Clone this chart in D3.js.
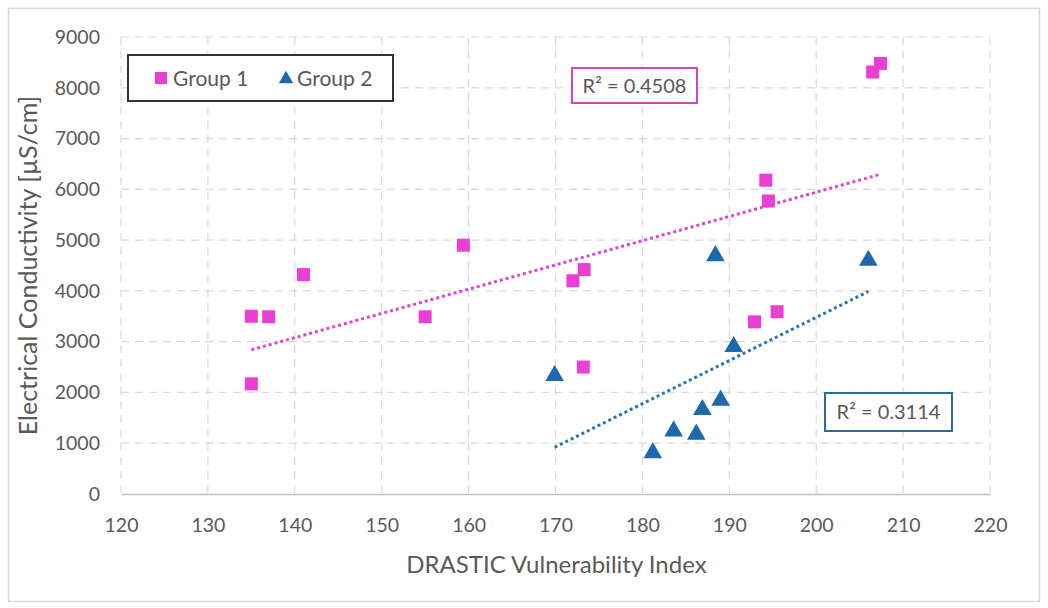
<!DOCTYPE html>
<html>
<head>
<meta charset="utf-8">
<script src="https://cdn.jsdelivr.net/npm/d3@7"></script>
<style>
  body { margin: 0; background: #fff; }
  svg text { font-family: Lato, "Open Sans", sans-serif; fill: #595959; }
</style>
</head>
<body>
<div id="chart"></div>
<script>
// group 1 (squares)
const group1X = [135, 137, 135, 141, 155, 159.4, 172, 173.3, 173.2, 192.9, 195.5, 194.2, 194.5, 206.5, 207.4];
const group1Y = [3500, 3490, 2170, 4320, 3490, 4900, 4200, 4420, 2500, 3390, 3590, 6180, 5770, 8310, 8480];
// group 2 (triangles)
const group2X = [169.9, 188.4, 206.0, 190.5, 181.2, 183.6, 186.2, 186.9, 189.0];
const group2Y = [2330, 4690, 4600, 2900, 810, 1240, 1175, 1660, 1845];

const xTicks = [120, 130, 140, 150, 160, 170, 180, 190, 200, 210, 220];
const yTicks = [0, 1000, 2000, 3000, 4000, 5000, 6000, 7000, 8000, 9000];
const seriesNames = ['Group 1', 'Group 2'];
const r2Labels = ['R\u00b2 = 0.4508', 'R\u00b2 = 0.3114'];

const width = 1048, height = 608;
const margin = { top: 37, right: 58, bottom: 114, left: 121 };
const w = width - margin.left - margin.right;
const h = height - margin.top - margin.bottom;

const pink = '#ea3fd4', blue = '#1d69ad';

const svg = d3.select('#chart').append('svg')
  .attr('width', width).attr('height', height);

// outer chart border
svg.append('rect')
  .attr('x', 8.5).attr('y', 8.5).attr('width', 1031).attr('height', 593)
  .attr('fill', '#fff').attr('stroke', '#d9d9d9').attr('stroke-width', 1.5);

const g = svg.append('g').attr('transform', `translate(${margin.left},${margin.top})`);

const x = d3.scaleLinear().domain([120, 220]).range([0, w]);
const y = d3.scaleLinear().domain([0, 9000]).range([h, 0]);

// grid
g.append('g').selectAll('line').data(yTicks.filter(d => d > 0)).enter().append('line')
  .attr('x1', 0).attr('x2', w).attr('y1', d => y(d)).attr('y2', d => y(d))
  .attr('stroke', '#d9d9d9').attr('stroke-width', 1.2).attr('stroke-dasharray', '8,6');
g.append('g').selectAll('line').data(xTicks).enter().append('line')
  .attr('x1', d => x(d)).attr('x2', d => x(d)).attr('y1', 0).attr('y2', h)
  .attr('stroke', '#d9d9d9').attr('stroke-width', 1.2).attr('stroke-dasharray', '8,6');

// axes
const xAxis = g.append('g').attr('transform', `translate(0,${h})`)
  .call(d3.axisBottom(x).tickValues(xTicks).tickSize(0).tickPadding(24));
xAxis.select('.domain').attr('stroke', '#bfbfbf').attr('stroke-width', 1.5);
xAxis.selectAll('text').style('font-size', '19.5px');

const yAxis = g.append('g')
  .call(d3.axisLeft(y).tickValues(yTicks).tickSize(0).tickPadding(21).tickFormat(d3.format('d')));
yAxis.select('.domain').remove();
yAxis.selectAll('text').style('font-size', '19.5px');

// axis titles
svg.append('text')
  .attr('x', margin.left + w / 2 + 1).attr('y', 573)
  .attr('text-anchor', 'middle').style('font-size', '24px')
  .text('DRASTIC Vulnerability Index');
svg.append('text')
  .attr('transform', `translate(37,${margin.top + h / 2}) rotate(-90)`)
  .attr('text-anchor', 'middle').style('font-size', '25px')
  .text('Electrical Conductivity [\u00b5S/cm]');

// linear regression trend lines
function fit(xs, ys) {
  const mx = d3.mean(xs), my = d3.mean(ys);
  let sxy = 0, sxx = 0;
  xs.forEach((v, i) => { sxy += (v - mx) * (ys[i] - my); sxx += (v - mx) * (v - mx); });
  const b = sxy / sxx, a = my - b * mx;
  const x0 = d3.min(xs), x1 = d3.max(xs);
  return [[x0, a + b * x0], [x1, a + b * x1]];
}
const line = d3.line().x(d => x(d[0])).y(d => y(d[1]));
g.append('path').datum(fit(group1X, group1Y)).attr('d', line)
  .attr('fill', 'none').attr('stroke', '#dd44d6').attr('stroke-width', 3).attr('stroke-dasharray', '3,3');
g.append('path').datum(fit(group2X, group2Y)).attr('d', line)
  .attr('fill', 'none').attr('stroke', '#2d73b3').attr('stroke-width', 3).attr('stroke-dasharray', '3,3');

// markers
const sq = 13;
g.append('g').selectAll('rect').data(group1X.map((v, i) => [v, group1Y[i]])).enter().append('rect')
  .attr('x', d => x(d[0]) - sq / 2).attr('y', d => y(d[1]) - sq / 2)
  .attr('width', sq).attr('height', sq).attr('fill', pink);

const tri = d3.symbol().type(d3.symbolTriangle).size(150);
g.append('g').selectAll('path').data(group2X.map((v, i) => [v, group2Y[i]])).enter().append('path')
  .attr('transform', d => `translate(${x(d[0])},${y(d[1])})`)
  .attr('d', tri).attr('fill', blue);

// legend
const leg = svg.append('g');
leg.append('rect').attr('x', 128).attr('y', 55).attr('width', 265).attr('height', 46)
  .attr('fill', '#fff').attr('stroke', '#333').attr('stroke-width', 2);
leg.append('rect').attr('x', 155).attr('y', 72).attr('width', 12).attr('height', 12).attr('fill', pink);
leg.append('text').attr('x', 173).attr('y', 86).style('font-size', '21px').text(seriesNames[0]);
leg.append('path').attr('transform', 'translate(286,79)')
  .attr('d', d3.symbol().type(d3.symbolTriangle).size(90)).attr('fill', blue);
leg.append('text').attr('x', 297).attr('y', 86).style('font-size', '21px').text(seriesNames[1]);

// R² labels
const r2Boxes = [
  { x: 572, y: 68, w: 125, h: 35, stroke: '#cc44cc' },
  { x: 825, y: 393, w: 127, h: 38, stroke: '#2f6b99' }
];
r2Boxes.forEach((b, i) => {
  svg.append('rect').attr('x', b.x).attr('y', b.y).attr('width', b.w).attr('height', b.h)
    .attr('fill', '#fff').attr('stroke', b.stroke).attr('stroke-width', 2);
  svg.append('text').attr('x', b.x + b.w / 2).attr('y', b.y + b.h / 2 + 7)
    .attr('text-anchor', 'middle').style('font-size', '20px').text(r2Labels[i]);
});
</script>
</body>
</html>
